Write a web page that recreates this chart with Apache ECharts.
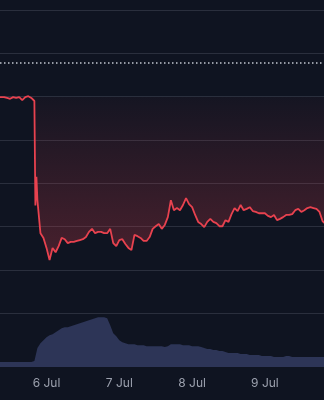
<!DOCTYPE html>
<html>
<head>
<meta charset="utf-8">
<script src="https://cdn.jsdelivr.net/npm/echarts@6/dist/echarts.min.js"></script>
<style>
html,body{margin:0;padding:0;background:#0f1421;}
#c{width:324px;height:400px;}
</style>
</head>
<body>
<div id="c"></div>
<script>
// hourly samples starting 5 Jul 08:00
var startTime = new Date(2024, 6, 5, 8, 0).getTime();
var axisMin = new Date(2024, 6, 5, 8, 40).getTime();
var axisMax = new Date(2024, 6, 9, 19, 29).getTime();

var price = [
 49.9,49.9,49.9,49.7,49.5,49.9,49.7,49.9,49.2,49.9,50.1,49.7,49.0,
 26.1,18.5,17.4,15.1,12.3,15.1,14.1,15.5,17.4,17.1,16.2,16.5,16.5,16.7,16.9,17.1,17.6,18.8,19.5,18.5,18.8,18.8,18.5,18.5,19.5,16.2,15.5,
 16.9,17.1,16.0,15.1,14.6,18.1,17.8,17.4,16.7,16.7,17.6,19.5,20.1,20.6,19.5,20.4,22.2,26.1,23.8,24.3,23.8,25.0,26.6,25.2,
 24.5,22.7,21.1,20.6,19.9,21.1,21.8,21.1,20.8,20.1,20.1,21.5,21.1,22.9,24.3,23.6,25.0,23.8,24.1,24.5,
 23.6,23.4,23.1,23.1,23.1,22.5,22.2,22.7,21.5,21.8,22.2,22.7,22.7,22.9,23.8,24.1,23.4,23.8,24.3,24.5,24.3,24.1,23.4,21.3,20.6
];
// extra sub-hourly ticks during the crash (hours after 5 Jul 08:00, value)
var crashTicks = [[12.33, 24.9], [12.67, 31.5]];
var volume = [
 5,5,5,5,5,5,5,5,5,5,5,5,6,
 19,24,27,30,32,33,35,37,39,40,40,41,42,43,44,45,46,47,48,49,50,50,50,49,42,34,31,
 27,25,24,23,23,23,22,22,22,21,21,21,21,21,21,20,21,23,23,23,23,22,22,22,
 21,21,21,20,19,18,18,17,17,16,16,15,14,14,14,14,13,13,13,12,
 12,12,12,11,11,11,11,10,10,10,10,11,11,10,10,10,10,10,10,10,10,10,10,10,10
];
var baseline = 49.9;
var refLevel = 57.8;
var monthNames = ['Jan','Feb','Mar','Apr','May','Jun','Jul','Aug','Sep','Oct','Nov','Dec'];

var HOUR = 3600000;
var priceData = price.map(function(v, i){ return [startTime + i * HOUR, v]; });
crashTicks.forEach(function(p){ priceData.push([startTime + p[0] * HOUR, p[1]]); });
priceData.sort(function(a, b){ return a[0] - b[0]; });
var volData = volume.map(function(v, i){ return [startTime + i * HOUR, v]; });

var chart = echarts.init(document.getElementById('c'), null, {renderer:'canvas'});
chart.setOption({
  backgroundColor: '#0f1421',
  animation: false,
  grid: [
    {left: 0, right: 0, top: 10, bottom: 86.67},
    {left: 0, right: 0, top: 313.33, bottom: 33}
  ],
  xAxis: [
    {type: 'time', gridIndex: 0, min: axisMin, max: axisMax, show: false},
    {type: 'time', gridIndex: 1, min: axisMin, max: axisMax,
     minInterval: 86400000, maxInterval: 86400000,
     axisLine: {show: false}, axisTick: {show: false}, splitLine: {show: false},
     axisLabel: {
       color: '#9ca1ae', fontSize: 12, fontFamily: 'Inter, Roboto, sans-serif', margin: 10,
       showMinLabel: false, showMaxLabel: false,
       formatter: function(val){
         var d = new Date(val);
         return d.getDate() + ' ' + monthNames[d.getMonth()];
       }
     }}
  ],
  yAxis: [
    {type: 'value', gridIndex: 0, min: 0, max: 70, interval: 10,
     axisLabel: {show: false}, axisLine: {show: false}, axisTick: {show: false},
     splitLine: {show: true, lineStyle: {color: '#2a2f3d', width: 1}}},
    {type: 'value', gridIndex: 1, min: 0, max: 54, show: false, splitLine: {show: false}}
  ],
  series: [
    {
      type: 'line', xAxisIndex: 1, yAxisIndex: 1, data: volData,
      symbol: 'none', showSymbol: false,
      lineStyle: {width: 0, color: '#2d3557'},
      areaStyle: {color: '#2d3557', opacity: 1}
    },
    {
      type: 'line', xAxisIndex: 0, yAxisIndex: 0, data: priceData,
      symbol: 'none', showSymbol: false,
      lineStyle: {width: 1.8, color: '#e8424f'},
      areaStyle: {
        origin: baseline,
        color: new echarts.graphic.LinearGradient(0, 0, 0, 1, [
          {offset: 0, color: 'rgba(232,66,79,0.04)'},
          {offset: 1, color: 'rgba(232,66,79,0.38)'}
        ])
      },
      markLine: {
        silent: true, symbol: 'none', label: {show: false},
        lineStyle: {color: '#c3c7d1', type: [1.5, 2.5], width: 1.5},
        data: [{yAxis: refLevel}]
      }
    }
  ]
});
</script>
</body>
</html>
